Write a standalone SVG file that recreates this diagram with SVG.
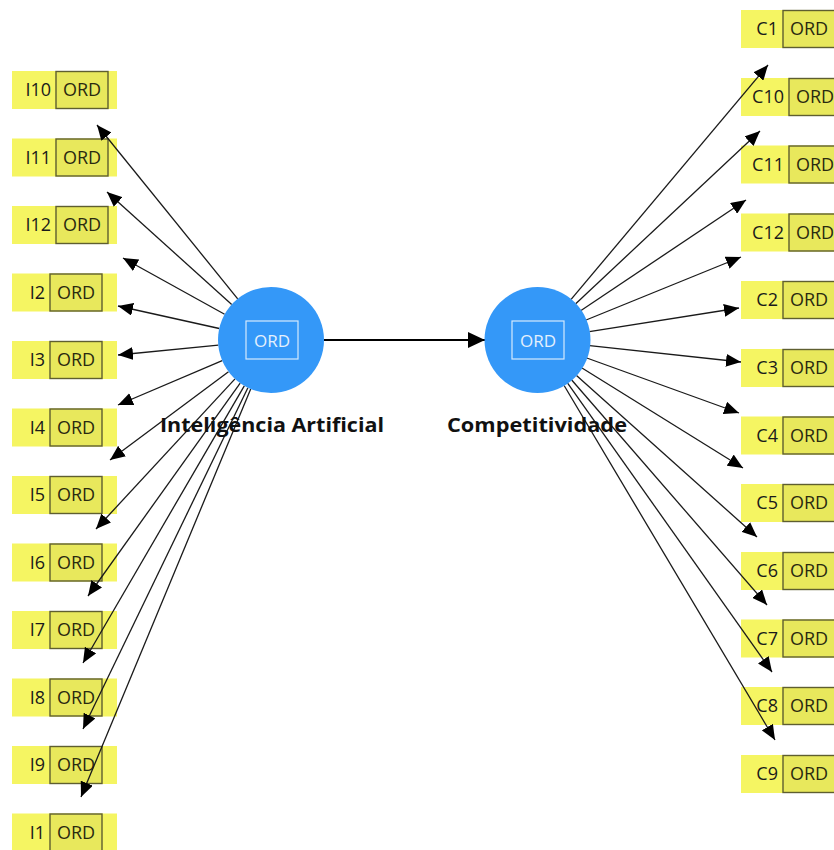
<svg xmlns="http://www.w3.org/2000/svg" width="834" height="850" viewBox="0 0 834 850">
<style>
.ybg{fill:#f5f562;}
.ord{fill:#e8e85c;stroke:#5e5e30;stroke-width:1.4;}
.lbl{font-family:"Open Sans","Noto Sans",sans-serif;font-size:18px;fill:#1a1a1a;}
.ordt{font-family:"Open Sans","Noto Sans",sans-serif;font-size:18px;fill:#2a2a10;text-anchor:middle;}
.lv{fill:#3498f8;}
.lvbox{fill:none;stroke:#d6e9fd;stroke-width:1.2;}
.lvt{font-family:"Open Sans","Noto Sans",sans-serif;font-size:17px;fill:#e4f0fd;text-anchor:middle;}
.name{font-family:"Open Sans","Noto Sans",sans-serif;font-size:19px;font-weight:bold;fill:#111;text-anchor:middle;}
.ln{stroke:#1a1a1a;stroke-width:1.3;fill:none;marker-end:url(#ah);}
.main{stroke:#000;stroke-width:2.2;fill:none;marker-end:url(#ahb);}
</style>
<defs>
<marker id="ah" markerUnits="userSpaceOnUse" markerWidth="15" markerHeight="13" refX="15" refY="6.5" orient="auto"><path d="M0,0 L15,6.5 L0,13 z" fill="#000"/></marker>
<marker id="ahb" markerUnits="userSpaceOnUse" markerWidth="17" markerHeight="16" refX="17" refY="8" orient="auto"><path d="M0,0 L17,8 L0,16 z" fill="#000"/></marker>
</defs>
<rect width="834" height="850" fill="#fff"/>

<g id="I10"><rect class="ybg" x="12" y="71" width="105" height="38"/><rect class="ord" x="56" y="71.5" width="52" height="37"/><text class="lbl" x="51" y="96" text-anchor="end">I10</text><text class="ordt" x="82" y="96">ORD</text></g>
<g id="I11"><rect class="ybg" x="12" y="138.5" width="105" height="38"/><rect class="ord" x="56" y="139" width="52" height="37"/><text class="lbl" x="51" y="163.5" text-anchor="end">I11</text><text class="ordt" x="82" y="163.5">ORD</text></g>
<g id="I12"><rect class="ybg" x="12" y="206" width="105" height="38"/><rect class="ord" x="56" y="206.5" width="52" height="37"/><text class="lbl" x="51" y="231" text-anchor="end">I12</text><text class="ordt" x="82" y="231">ORD</text></g>
<g id="I2"><rect class="ybg" x="12" y="273.5" width="105" height="38"/><rect class="ord" x="50" y="274" width="52" height="37"/><text class="lbl" x="45" y="298.5" text-anchor="end">I2</text><text class="ordt" x="76" y="298.5">ORD</text></g>
<g id="I3"><rect class="ybg" x="12" y="341" width="105" height="38"/><rect class="ord" x="50" y="341.5" width="52" height="37"/><text class="lbl" x="45" y="366" text-anchor="end">I3</text><text class="ordt" x="76" y="366">ORD</text></g>
<g id="I4"><rect class="ybg" x="12" y="408.5" width="105" height="38"/><rect class="ord" x="50" y="409" width="52" height="37"/><text class="lbl" x="45" y="433.5" text-anchor="end">I4</text><text class="ordt" x="76" y="433.5">ORD</text></g>
<g id="I5"><rect class="ybg" x="12" y="476" width="105" height="38"/><rect class="ord" x="50" y="476.5" width="52" height="37"/><text class="lbl" x="45" y="501" text-anchor="end">I5</text><text class="ordt" x="76" y="501">ORD</text></g>
<g id="I6"><rect class="ybg" x="12" y="543.5" width="105" height="38"/><rect class="ord" x="50" y="544" width="52" height="37"/><text class="lbl" x="45" y="568.5" text-anchor="end">I6</text><text class="ordt" x="76" y="568.5">ORD</text></g>
<g id="I7"><rect class="ybg" x="12" y="611" width="105" height="38"/><rect class="ord" x="50" y="611.5" width="52" height="37"/><text class="lbl" x="45" y="636" text-anchor="end">I7</text><text class="ordt" x="76" y="636">ORD</text></g>
<g id="I8"><rect class="ybg" x="12" y="678.5" width="105" height="38"/><rect class="ord" x="50" y="679" width="52" height="37"/><text class="lbl" x="45" y="703.5" text-anchor="end">I8</text><text class="ordt" x="76" y="703.5">ORD</text></g>
<g id="I9"><rect class="ybg" x="12" y="746" width="105" height="38"/><rect class="ord" x="50" y="746.5" width="52" height="37"/><text class="lbl" x="45" y="771" text-anchor="end">I9</text><text class="ordt" x="76" y="771">ORD</text></g>
<g id="I1"><rect class="ybg" x="12" y="813.5" width="105" height="38"/><rect class="ord" x="50" y="814" width="52" height="37"/><text class="lbl" x="45" y="838.5" text-anchor="end">I1</text><text class="ordt" x="76" y="838.5">ORD</text></g>

<g id="C1"><rect class="ybg" x="741" y="10" width="105" height="38"/><rect class="ord" x="783" y="10.5" width="52" height="37"/><text class="lbl" x="778" y="35" text-anchor="end">C1</text><text class="ordt" x="809" y="35">ORD</text></g>
<g id="C10"><rect class="ybg" x="741" y="78" width="105" height="38"/><rect class="ord" x="789" y="78.5" width="52" height="37"/><text class="lbl" x="784" y="103" text-anchor="end">C10</text><text class="ordt" x="815" y="103">ORD</text></g>
<g id="C11"><rect class="ybg" x="741" y="145.5" width="105" height="38"/><rect class="ord" x="789" y="146" width="52" height="37"/><text class="lbl" x="784" y="170.5" text-anchor="end">C11</text><text class="ordt" x="815" y="170.5">ORD</text></g>
<g id="C12"><rect class="ybg" x="741" y="213.5" width="105" height="38"/><rect class="ord" x="789" y="214" width="52" height="37"/><text class="lbl" x="784" y="238.5" text-anchor="end">C12</text><text class="ordt" x="815" y="238.5">ORD</text></g>
<g id="C2"><rect class="ybg" x="741" y="281" width="105" height="38"/><rect class="ord" x="783" y="281.5" width="52" height="37"/><text class="lbl" x="778" y="306" text-anchor="end">C2</text><text class="ordt" x="809" y="306">ORD</text></g>
<g id="C3"><rect class="ybg" x="741" y="349" width="105" height="38"/><rect class="ord" x="783" y="349.5" width="52" height="37"/><text class="lbl" x="778" y="374" text-anchor="end">C3</text><text class="ordt" x="809" y="374">ORD</text></g>
<g id="C4"><rect class="ybg" x="741" y="416.5" width="105" height="38"/><rect class="ord" x="783" y="417" width="52" height="37"/><text class="lbl" x="778" y="441.5" text-anchor="end">C4</text><text class="ordt" x="809" y="441.5">ORD</text></g>
<g id="C5"><rect class="ybg" x="741" y="484" width="105" height="38"/><rect class="ord" x="783" y="484.5" width="52" height="37"/><text class="lbl" x="778" y="509" text-anchor="end">C5</text><text class="ordt" x="809" y="509">ORD</text></g>
<g id="C6"><rect class="ybg" x="741" y="552" width="105" height="38"/><rect class="ord" x="783" y="552.5" width="52" height="37"/><text class="lbl" x="778" y="577" text-anchor="end">C6</text><text class="ordt" x="809" y="577">ORD</text></g>
<g id="C7"><rect class="ybg" x="741" y="619.5" width="105" height="38"/><rect class="ord" x="783" y="620" width="52" height="37"/><text class="lbl" x="778" y="644.5" text-anchor="end">C7</text><text class="ordt" x="809" y="644.5">ORD</text></g>
<g id="C8"><rect class="ybg" x="741" y="687" width="105" height="38"/><rect class="ord" x="783" y="687.5" width="52" height="37"/><text class="lbl" x="778" y="712" text-anchor="end">C8</text><text class="ordt" x="809" y="712">ORD</text></g>
<g id="C9"><rect class="ybg" x="741" y="755" width="105" height="38"/><rect class="ord" x="783" y="755.5" width="52" height="37"/><text class="lbl" x="778" y="780" text-anchor="end">C9</text><text class="ordt" x="809" y="780">ORD</text></g>

<g id="connectors">
<line class="ln" x1="237.7" y1="298.8" x2="97" y2="125"/>
<line class="ln" x1="231.7" y1="304.5" x2="107" y2="192"/>
<line class="ln" x1="224.6" y1="314.3" x2="123" y2="258"/>
<line class="ln" x1="219.3" y1="328.5" x2="118" y2="306"/>
<line class="ln" x1="218.3" y1="345.2" x2="118" y2="355"/>
<line class="ln" x1="222.2" y1="360.7" x2="118" y2="405"/>
<line class="ln" x1="228.5" y1="371.7" x2="110" y2="460"/>
<line class="ln" x1="235.0" y1="378.9" x2="96" y2="529"/>
<line class="ln" x1="240.2" y1="383.1" x2="88" y2="596"/>
<line class="ln" x1="244.3" y1="385.8" x2="83" y2="663"/>
<line class="ln" x1="247.9" y1="387.7" x2="83" y2="729"/>
<line class="ln" x1="250.7" y1="388.9" x2="81" y2="797"/>
<line class="ln" x1="571.1" y1="299.4" x2="768" y2="65"/>
<line class="ln" x1="575.7" y1="303.7" x2="760" y2="131"/>
<line class="ln" x1="581.0" y1="310.5" x2="746" y2="200"/>
<line class="ln" x1="586.1" y1="320.0" x2="741" y2="257"/>
<line class="ln" x1="589.4" y1="331.7" x2="739" y2="308"/>
<line class="ln" x1="589.7" y1="345.7" x2="741" y2="362"/>
<line class="ln" x1="586.8" y1="358.0" x2="739" y2="413"/>
<line class="ln" x1="582.0" y1="368.0" x2="743" y2="468"/>
<line class="ln" x1="576.5" y1="375.4" x2="757" y2="537"/>
<line class="ln" x1="571.7" y1="380.0" x2="767" y2="605"/>
<line class="ln" x1="567.6" y1="383.2" x2="772" y2="672"/>
<line class="ln" x1="564.1" y1="385.5" x2="775" y2="740"/>
<line class="main" x1="324" y1="340" x2="485" y2="340"/>
</g>

<g id="InteligenciaArtificial">
<circle class="lv" cx="271" cy="340" r="53"/>
<rect class="lvbox" x="246" y="321" width="52" height="38"/>
<text class="lvt" x="272" y="346.5">ORD</text>
<text class="name" x="272" y="432" textLength="224" lengthAdjust="spacingAndGlyphs">Inteligência Artificial</text>
</g>
<g id="Competitividade">
<circle class="lv" cx="537.5" cy="340" r="53"/>
<rect class="lvbox" x="512" y="321" width="52" height="38"/>
<text class="lvt" x="538" y="346.5">ORD</text>
<text class="name" x="537" y="432" textLength="180" lengthAdjust="spacingAndGlyphs">Competitividade</text>
</g>
</svg>
